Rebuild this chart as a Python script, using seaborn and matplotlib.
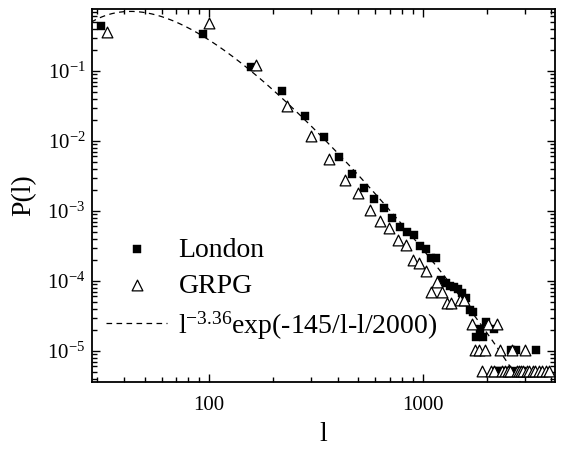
import numpy as np
import pandas as pd
import matplotlib
matplotlib.use("Agg")
import matplotlib.pyplot as plt
from matplotlib.ticker import LogLocator, FixedLocator, FuncFormatter, NullFormatter
import seaborn as sns

# ---- data ----
london_l = [31.25, 93.75, 156.25, 218.75, 281.25, 343.75, 406.25, 468.75, 531.25,
            593.75, 656.25, 718.75, 781.25, 843.75, 906.25, 968.75, 1031.25, 1093.75,
            1156.25, 1218.75, 1281.25, 1343.75, 1406.25, 1468.75, 1531.25, 1593.75,
            1656.25, 1718.75, 1781.25, 1843.75, 1906.25, 1968.75, 2156.25, 2218.75,
            2281.25, 2468.75, 2593.75, 2656.25, 2718.75, 2906.25, 3406.25]
london_p = [0.443, 0.334, 0.115, 0.0518, 0.0230, 0.0115, 0.0059, 0.00338, 0.00213,
            0.00150, 0.00109, 0.00079, 0.00059, 0.00050, 0.00045, 0.00032, 0.00029, 0.00021,
            0.00021, 0.000102, 0.000094, 0.000085, 0.000083, 0.000077, 0.000067, 0.000057,
            0.0000385, 0.0000364, 0.0000156, 0.0000208, 0.0000156, 0.000026, 0.0000208, 0.0000052,
            0.0000052, 0.0000052, 0.0000104, 0.0000052, 0.0000104, 0.0000052, 0.0000104]

grpg_l = [33.25, 99.75, 166.25, 232.75, 299.25, 365.75, 432.25, 498.75, 565.25,
          631.75, 698.25, 764.75, 831.25, 897.75, 964.25, 1030.75, 1097.25, 1163.75,
          1230.25, 1296.75, 1363.25, 1496.25, 1562.75, 1695.75, 1762.25, 1828.75,
          1961.75, 2028.25, 2227.75, 2294.25, 2626.75, 3025.75,
          1895.25, 2094.75, 2161.25, 2360.75, 2427.25, 2493.75, 2560.25, 2759.75,
          2826.25, 2892.75, 2959.25, 3092.25, 3158.75, 3291.75, 3358.25, 3491.25,
          3624.25, 3757.25, 3890.25]
grpg_p = [0.364, 0.49, 0.122, 0.0316, 0.0119, 0.0055, 0.0028, 0.0018, 0.00103,
          0.00073, 0.00057, 0.00039, 0.00033, 0.00020, 0.00018, 0.00014, 0.000070, 0.000098,
          0.000070, 0.000048, 0.000048, 0.000053, 0.000053, 0.0000246, 0.0000104, 0.0000104,
          0.0000104, 0.0000246, 0.0000246, 0.0000104, 0.0000104, 0.0000104,
          0.0000052, 0.0000052, 0.0000052, 0.0000052, 0.0000052, 0.0000052, 0.0000052, 0.0000052,
          0.0000052, 0.0000052, 0.0000052, 0.0000052, 0.0000052, 0.0000052, 0.0000052, 0.0000052,
          0.0000052, 0.0000052, 0.0000052]

# fit curve from the legend: C * l^-3.36 * exp(-145/l - l/2000)
fit_exponent = -3.36
fit_l0 = 145.0
fit_l1 = 2000.0
fit_scale = 6.5e6

x_ticks = [100, 1000]
x_ticklabels = ["100", "1000"]
y_ticks = [1e-1, 1e-2, 1e-3, 1e-4, 1e-5]

legend_labels = ["London", "GRPG", r"$\mathregular{l^{-3.36}}$exp(-145/l-l/2000)"]

# ---- style ----
sns.set_style("ticks")
plt.rcParams["font.family"] = ["Liberation Serif", "DejaVu Serif"]
plt.rcParams["mathtext.default"] = "regular"
for key in ["text.color", "axes.labelcolor", "xtick.color", "ytick.color", "axes.edgecolor"]:
    plt.rcParams[key] = "black"

fig = plt.figure(figsize=(5.65, 4.51), dpi=100)
ax = fig.add_axes([0.1634, 0.1537, 0.8189, 0.8257])

df_l = pd.DataFrame({"l": london_l, "P": london_p})
df_g = pd.DataFrame({"l": grpg_l, "P": grpg_p})
lfit = np.geomspace(28, 4300, 400)
df_f = pd.DataFrame({"l": lfit,
                     "P": fit_scale * lfit ** fit_exponent * np.exp(-fit_l0 / lfit - lfit / fit_l1)})

sns.lineplot(data=df_f, x="l", y="P", ax=ax, color="black", linewidth=0.9,
             linestyle=(0, (4.5, 3.5)), label=legend_labels[2], zorder=1)
sns.scatterplot(data=df_l, x="l", y="P", ax=ax, marker="s", s=36, color="black",
                edgecolor="black", linewidth=0.3, label=legend_labels[0], zorder=3)
sns.scatterplot(data=df_g, x="l", y="P", ax=ax, marker="^", s=60, facecolor="white",
                edgecolor="black", linewidth=0.9, label=legend_labels[1], zorder=4)

ax.set_xscale("log")
ax.set_yscale("log")
ax.set_xlim(28.4, 4160)
ax.set_ylim(3.64e-6, 0.76)

ax.xaxis.set_major_locator(FixedLocator(x_ticks))
ax.xaxis.set_major_formatter(FuncFormatter(lambda v, p: x_ticklabels[x_ticks.index(round(v))] if round(v) in x_ticks else ""))
ax.xaxis.set_minor_locator(LogLocator(base=10, subs=np.arange(2, 10), numticks=20))
ax.xaxis.set_minor_formatter(NullFormatter())
ax.yaxis.set_major_locator(FixedLocator(y_ticks))
ax.yaxis.set_major_formatter(FuncFormatter(lambda v, p: r"$\mathregular{10^{%d}}$" % int(round(np.log10(v)))))
ax.yaxis.set_minor_locator(LogLocator(base=10, subs=np.arange(2, 10), numticks=20))
ax.yaxis.set_minor_formatter(NullFormatter())

ax.tick_params(which="both", direction="in", top=True, right=True, colors="black",
               labelcolor="black", labelsize=15, width=1.0)
ax.tick_params(which="major", length=6)
ax.tick_params(which="minor", length=3.5)
ax.tick_params(axis="x", pad=10)
ax.tick_params(axis="y", pad=5)
for sp in ax.spines.values():
    sp.set_linewidth(1.3)
    sp.set_color("black")

ax.set_xlabel("l", fontsize=20, labelpad=5, color="black")
ax.set_ylabel("P(l)", fontsize=20, labelpad=8, color="black")

h, lab = ax.get_legend_handles_labels()
order = [lab.index(legend_labels[0]), lab.index(legend_labels[1]), lab.index(legend_labels[2])]
leg = ax.legend([h[i] for i in order], [lab[i] for i in order], loc="center left",
                bbox_to_anchor=(-0.012, 0.248), frameon=False, fontsize=20, handlelength=2.2,
                handletextpad=0.4, labelspacing=0.38, borderpad=0.2)
for t in leg.get_texts():
    t.set_color("black")

fig.savefig("out.png", dpi=100)
